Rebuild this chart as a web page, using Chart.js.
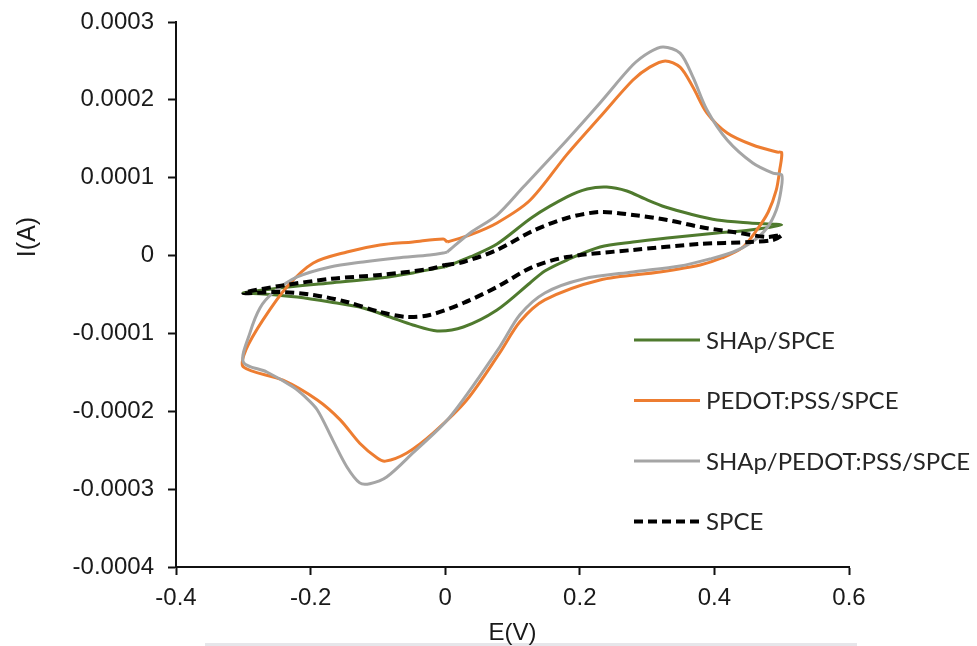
<!DOCTYPE html>
<html>
<head>
<meta charset="utf-8">
<script src="https://cdn.jsdelivr.net/npm/chart.js@4.4.1/dist/chart.umd.min.js"></script>
<style>
  html, body { margin: 0; padding: 0; background: #fff; }
  canvas { display: block; }
</style>
</head>
<body>
<canvas id="cv" width="977" height="646"></canvas>
<script>
// cyclic voltammograms, potential E (V) vs current I (A); each loop starts and ends at 0 V
const seriesNames = ['SHAp/SPCE', 'PEDOT:PSS/SPCE', 'SHAp/PEDOT:PSS/SPCE', 'SPCE'];

const shapE = [0.000, 0.037, 0.077, 0.130, 0.181, 0.211, 0.240, 0.270, 0.297, 0.327, 0.364, 0.404, 0.453, 0.500,
  0.453, 0.404, 0.330, 0.279, 0.230, 0.181, 0.148, 0.126, 0.077, 0.027, -0.012, -0.048, -0.082, -0.122,
  -0.171, -0.220, -0.271, -0.300, -0.246, -0.171, -0.097, -0.048, -0.003, 0.000];
const shapI = [-1.46e-5, -1.8e-6, 1.49e-5, 4.96e-5, 7.53e-5, 8.55e-5, 8.81e-5, 8.30e-5, 7.27e-5, 6.24e-5, 5.34e-5, 4.57e-5, 4.19e-5, 3.93e-5,
  3.29e-5, 2.90e-5, 2.26e-5, 1.75e-5, 1.10e-5, -5.7e-6, -1.98e-5, -3.52e-5, -6.99e-5, -9.17e-5, -9.68e-5, -8.91e-5, -7.89e-5, -6.73e-5,
  -5.96e-5, -5.32e-5, -4.93e-5, -4.80e-5, -4.16e-5, -3.52e-5, -2.88e-5, -2.23e-5, -1.46e-5, -1.46e-5];

const pedotE = [0.003, 0.037, 0.077, 0.126, 0.181, 0.230, 0.279, 0.304, 0.327, 0.349, 0.368, 0.389, 0.419, 0.457, 0.493, 0.500,
  0.497, 0.492, 0.480, 0.463, 0.441, 0.411, 0.379, 0.319, 0.230, 0.148, 0.111, 0.081, 0.032, -0.018, -0.057, -0.089,
  -0.101, -0.127, -0.156, -0.190, -0.241, -0.300, -0.296, -0.271, -0.235, -0.196, -0.146, -0.097, -0.048, -0.003, 0.003];
const pedotI = [1.75e-5, 2.65e-5, 4.19e-5, 7.1e-5, 1.30e-4, 1.78e-4, 2.255e-4, 2.42e-4, 2.50e-4, 2.42e-4, 2.165e-4, 1.83e-4, 1.575e-4, 1.42e-4, 1.33e-4, 1.32e-4,
  1.10e-4, 8.43e-5, 5.6e-5, 3.29e-5, 9.8e-6, -3.1e-6, -1.21e-5, -2.1e-5, -3.13e-5, -5.7e-5, -8.5e-5, -1.25e-4, -1.855e-4, -2.28e-4, -2.535e-4, -2.64e-4,
  -2.60e-4, -2.41e-4, -2.11e-4, -1.855e-4, -1.60e-4, -1.43e-4, -1.21e-4, -8.3e-5, -4.0e-5, -9.5e-6, 4.6e-6, 1.36e-5, 1.75e-5, 2.13e-5, 1.75e-5];

const shapPedotE = [0.003, 0.037, 0.077, 0.116, 0.181, 0.230, 0.279, 0.304, 0.324, 0.349, 0.368, 0.389, 0.419, 0.457, 0.487, 0.500,
  0.499, 0.492, 0.478, 0.456, 0.428, 0.393, 0.349, 0.279, 0.205, 0.148, 0.111, 0.081, 0.007, -0.048, -0.087, -0.112, -0.127,
  -0.146, -0.167, -0.190, -0.208, -0.226, -0.265, -0.300, -0.290, -0.275, -0.256, -0.220, -0.171, -0.122, -0.072, -0.023, -0.003, 0.003];
const shapPedotI = [4.6e-6, 2.9e-5, 5.2e-5, 8.8e-5, 1.485e-4, 1.96e-4, 2.45e-4, 2.615e-4, 2.68e-4, 2.60e-4, 2.294e-4, 1.87e-4, 1.485e-4, 1.19e-4, 1.06e-4, 1.035e-4,
  8.43e-5, 5.86e-5, 3.54e-5, 1.75e-5, 4.6e-6, -4.4e-6, -1.34e-5, -2.1e-5, -3.0e-5, -4.8e-5, -7.6e-5, -1.174e-4, -2.073e-4, -2.535e-4, -2.844e-4, -2.93e-4, -2.92e-4,
  -2.715e-4, -2.37e-4, -1.983e-4, -1.816e-4, -1.688e-4, -1.495e-4, -1.367e-4, -9.9e-5, -6.7e-5, -4.8e-5, -2.75e-5, -1.46e-5, -8.2e-6, -3.1e-6, 8e-7, 3.3e-6, 4.6e-6];

const spceE = [0.000, 0.027, 0.077, 0.130, 0.181, 0.230, 0.279, 0.330, 0.379, 0.428, 0.478, 0.500,
  0.487, 0.453, 0.379, 0.279, 0.181, 0.130, 0.077, 0.027, -0.023, -0.057, -0.097, -0.146, -0.196, -0.246, -0.300,
  -0.246, -0.171, -0.097, -0.023, 0.000];
const spceI = [-1.21e-5, -8.2e-6, 7.2e-6, 3.16e-5, 4.83e-5, 5.6e-5, 5.21e-5, 4.57e-5, 3.67e-5, 3.03e-5, 2.39e-5, 2.65e-5,
  2.0e-5, 1.75e-5, 1.49e-5, 7.2e-6, -1.8e-6, -1.46e-5, -4.03e-5, -6.09e-5, -7.63e-5, -7.89e-5, -7.24e-5, -5.96e-5, -5.06e-5, -4.68e-5, -4.8e-5,
  -3.9e-5, -3.0e-5, -2.49e-5, -1.72e-5, -1.21e-5];

const xTicks = [-0.4, -0.2, 0, 0.2, 0.4, 0.6];
const yTicks = [-0.0004, -0.0003, -0.0002, -0.0001, 0, 0.0001, 0.0002, 0.0003];

function pts(xs, ys) {
  return xs.map((x, i) => ({ x: x, y: ys[i] }));
}

const tickFont = { family: '"Liberation Sans", Arial, sans-serif', size: 24 };

// axis titles and the legend box inside the plot
const annotate = {
  id: 'annotate',
  afterDraw(chart) {
    const ctx = chart.ctx;
    const area = chart.chartArea;
    ctx.save();

    ctx.fillStyle = '#e6e6ea';
    ctx.fillRect(205, 643, 652, 3);

    ctx.fillStyle = '#1a1a1a';
    ctx.font = '24px "Liberation Sans", Arial, sans-serif';
    ctx.textAlign = 'center';
    ctx.textBaseline = 'alphabetic';
    ctx.fillText('E(V)', (area.left + area.right) / 2, 640);

    ctx.translate(35, 237);
    ctx.rotate(-Math.PI / 2);
    ctx.font = '25px "Liberation Sans", Arial, sans-serif';
    ctx.fillText('I(A)', 0, 0);
    ctx.restore();

    ctx.save();
    ctx.font = '24px Lato, "Open Sans", sans-serif';
    ctx.textBaseline = 'middle';
    ctx.textAlign = 'left';
    chart.data.datasets.forEach((ds, i) => {
      const y = 340 + i * 60.5;
      ctx.beginPath();
      ctx.strokeStyle = ds.borderColor;
      ctx.lineWidth = ds.borderWidth;
      ctx.setLineDash(ds.borderDash || []);
      ctx.moveTo(634, y);
      ctx.lineTo(700, y);
      ctx.stroke();
      ctx.setLineDash([]);
      ctx.fillStyle = '#262626';
      ctx.fillText(ds.label, 706, y + 1);
    });
    ctx.restore();
  }
};

const ctx = document.getElementById('cv').getContext('2d');
const chart = new Chart(ctx, {
  type: 'scatter',
  data: {
    datasets: [
      {
        label: seriesNames[0],
        data: pts(shapE, shapI),
        borderColor: '#4f7a2e',
        borderWidth: 3,
        order: 4
      },
      {
        label: seriesNames[1],
        data: pts(pedotE, pedotI),
        borderColor: '#ed7d31',
        borderWidth: 3,
        order: 3
      },
      {
        label: seriesNames[2],
        data: pts(shapPedotE, shapPedotI),
        borderColor: '#a5a5a5',
        borderWidth: 3,
        order: 2
      },
      {
        label: seriesNames[3],
        data: pts(spceE, spceI),
        borderColor: '#000000',
        borderWidth: 4,
        borderDash: [9, 5],
        order: 1
      }
    ]
  },
  options: {
    responsive: false,
    animation: false,
    showLine: true,
    elements: {
      point: { radius: 0, hoverRadius: 0 },
      line: { tension: 0.3, fill: false, borderCapStyle: 'butt', borderJoinStyle: 'round' }
    },
    layout: { padding: { left: 0, top: 22, right: 128, bottom: 0 } },
    plugins: {
      legend: { display: false },
      tooltip: { enabled: false }
    },
    scales: {
      x: {
        type: 'linear',
        min: xTicks[0],
        max: xTicks[xTicks.length - 1],
        afterBuildTicks: (scale) => { scale.ticks = xTicks.map(v => ({ value: v })); },
        afterFit: (scale) => {
          scale.height = 79;
          scale.paddingLeft = 0;
          scale.paddingRight = 0;
        },
        ticks: {
          color: '#1a1a1a',
          font: tickFont,
          padding: 9,
          maxRotation: 0,
          callback: (v) => String(Number(v.toFixed(1)))
        },
        grid: { drawOnChartArea: false, drawTicks: true, tickLength: 8, tickColor: '#111', tickWidth: 2 },
        border: { display: true, color: '#111', width: 2 }
      },
      y: {
        type: 'linear',
        min: yTicks[0],
        max: yTicks[yTicks.length - 1],
        afterBuildTicks: (scale) => { scale.ticks = yTicks.map(v => ({ value: v })); },
        afterFit: (scale) => {
          scale.width = 176;
          scale.paddingTop = 0;
          scale.paddingBottom = 0;
        },
        ticks: {
          color: '#1a1a1a',
          font: tickFont,
          padding: 14,
          callback: (v) => (Math.abs(v) < 1e-12 ? '0' : v.toFixed(4))
        },
        grid: { drawOnChartArea: false, drawTicks: true, tickLength: 8, tickColor: '#111', tickWidth: 2 },
        border: { display: true, color: '#111', width: 2 }
      }
    }
  },
  plugins: [annotate]
});
</script>
</body>
</html>
